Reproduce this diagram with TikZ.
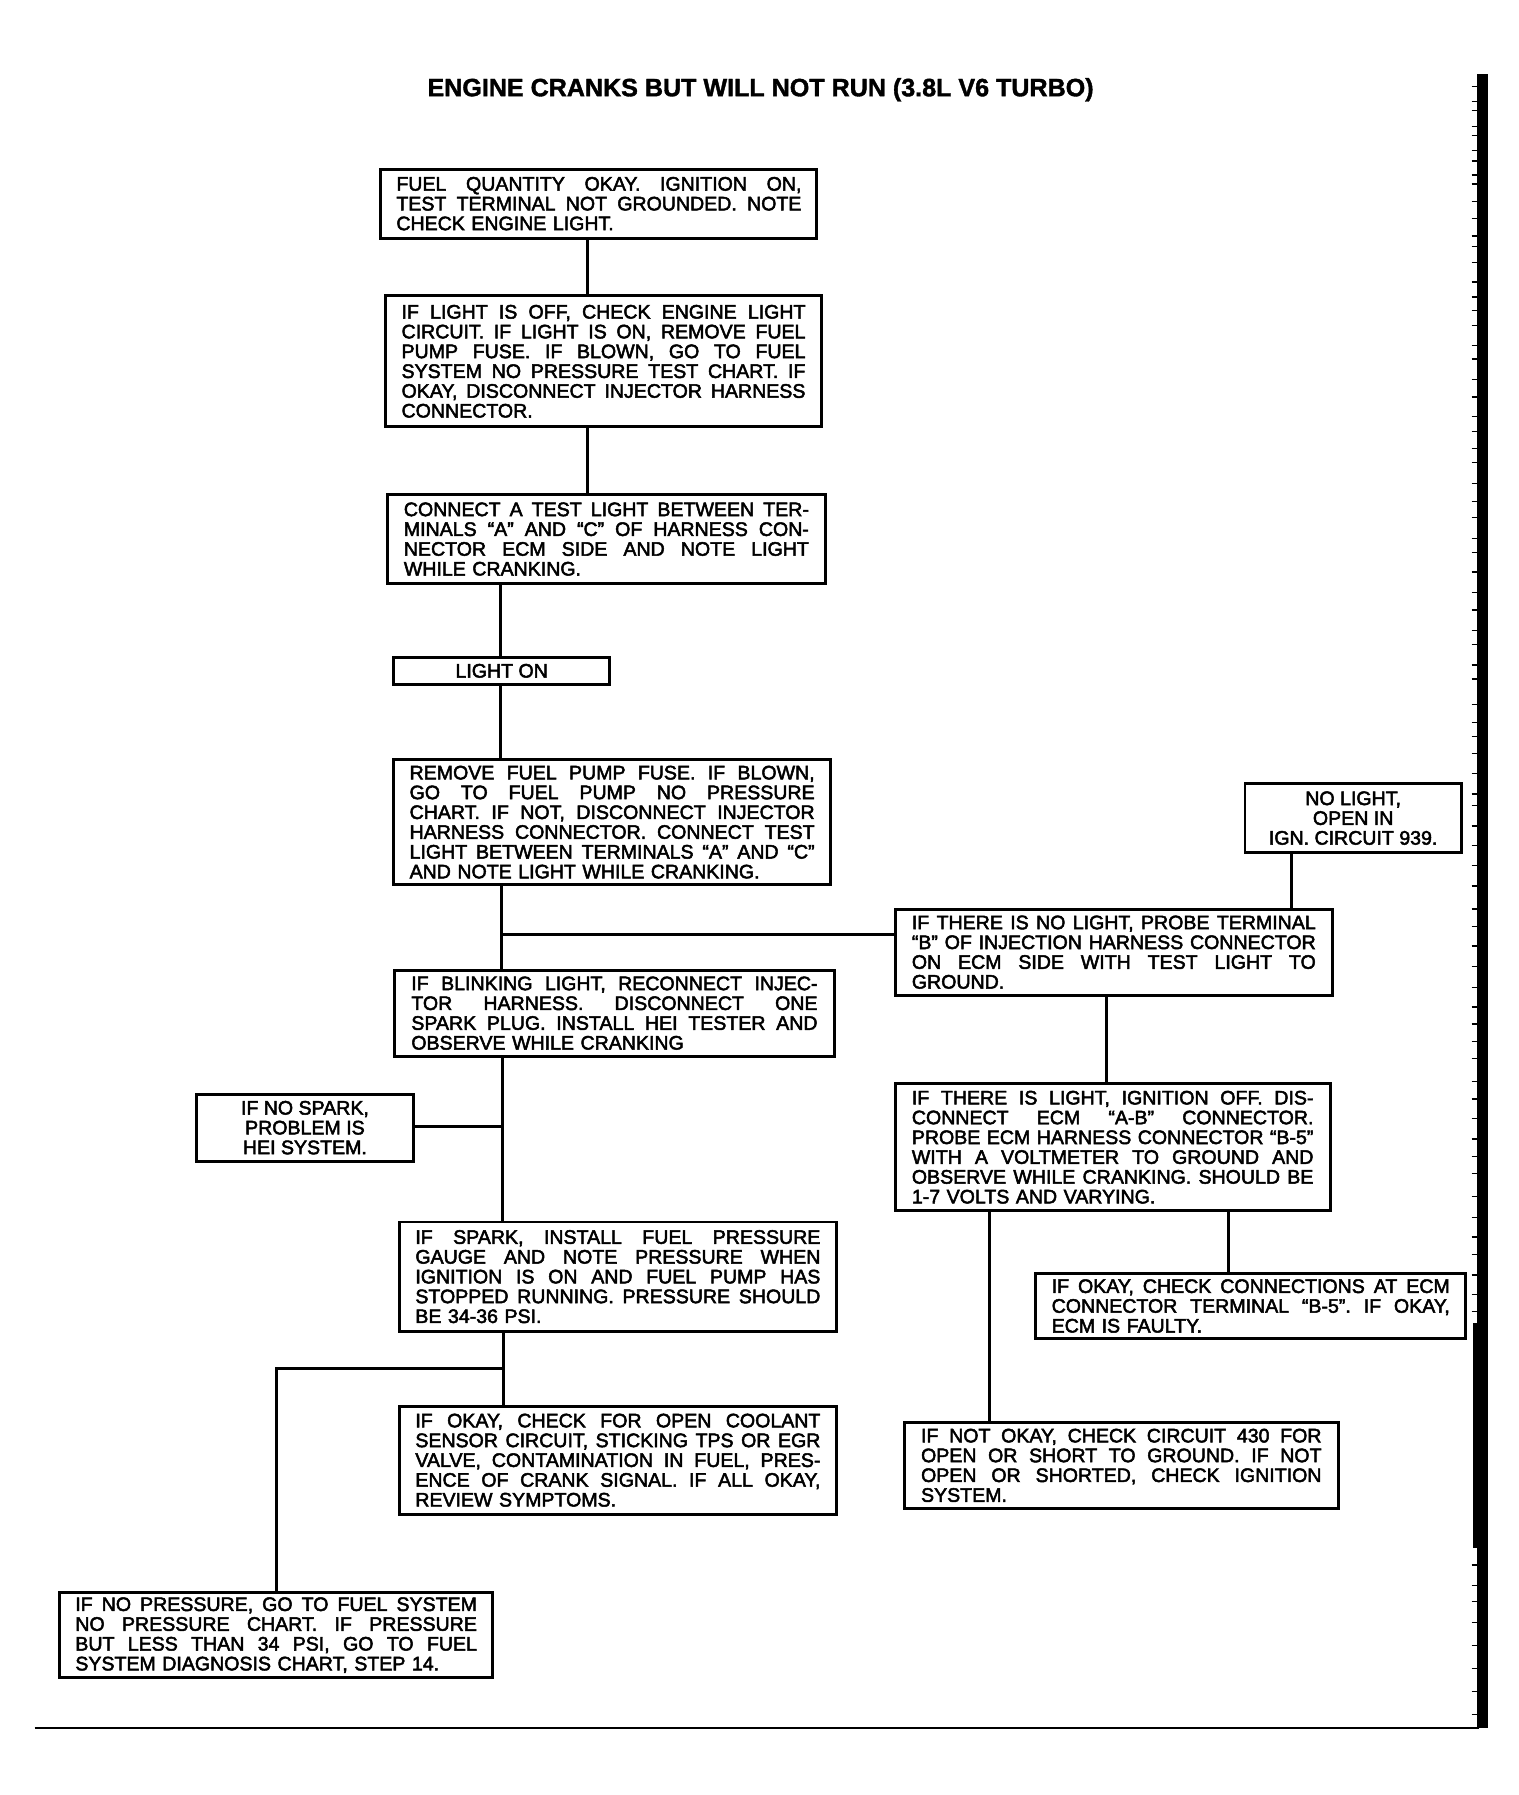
\documentclass[tikz,border=0pt]{standalone}
\usepackage{fontspec}
\setmainfont{Liberation Sans}
\newfontfamily\bxfont{Liberation Sans}[Ligatures=TeX,FakeBold=2.5]
\newfontfamily\ttlfont{Liberation Sans Bold}[Ligatures=TeX,FakeBold=1.5]
\newcommand\J[1]{\makebox[\hsize][s]{\spaceskip=0pt\xspaceskip=0pt #1}}
\begin{document}
\begin{tikzpicture}[x=0.5pt,y=-0.5pt,
  box/.style={draw, line width=1.3pt, inner xsep=1pt, inner ysep=0.5pt, align=left,
    font=\bxfont\fontsize{8.5}{8.6}\selectfont\frenchspacing},
  cbox/.style={box, align=center},
  link/.style={line width=1.3pt}]
\useasboundingbox (0,0) rectangle (1320,1560);

\node[font=\ttlfont\fontsize{10.9}{12}\selectfont] (title) at (661,78) {ENGINE CRANKS BUT WILL NOT RUN (3.8L V6 TURBO)};

\node[box, minimum width=189.5pt, minimum height=30pt, text width=176pt] (b1) at (520.5,177) {%
\J{FUEL QUANTITY OKAY. IGNITION ON,}\\
\J{TEST TERMINAL NOT GROUNDED. NOTE}\\
CHECK ENGINE LIGHT.};

\node[box, minimum width=189.5pt, minimum height=57pt, text width=175.5pt] (b2) at (524.5,314) {%
\J{IF LIGHT IS OFF, CHECK ENGINE LIGHT}\\
\J{CIRCUIT. IF LIGHT IS ON, REMOVE FUEL}\\
\J{PUMP FUSE. IF BLOWN, GO TO FUEL}\\
\J{SYSTEM NO PRESSURE TEST CHART. IF}\\
\J{OKAY, DISCONNECT INJECTOR HARNESS}\\
CONNECTOR.};

\node[box, minimum width=190pt, minimum height=38.5pt, text width=176pt] (b3) at (527,468.5) {%
\J{CONNECT A TEST LIGHT BETWEEN TER-}\\
\J{MINALS ``A'' AND ``C'' OF HARNESS CON-}\\
\J{NECTOR ECM SIDE AND NOTE LIGHT}\\
WHILE CRANKING.};

\node[cbox, minimum width=94pt, minimum height=12pt] (lighton) at (436,583) {LIGHT ON};

\node[box, minimum width=190pt, minimum height=54.5pt, text width=176pt] (b5) at (532,714.5) {%
\J{REMOVE FUEL PUMP FUSE. IF BLOWN,}\\
\J{GO TO FUEL PUMP NO PRESSURE}\\
\J{CHART. IF NOT, DISCONNECT INJECTOR}\\
\J{HARNESS CONNECTOR. CONNECT TEST}\\
\J{LIGHT BETWEEN TERMINALS ``A'' AND ``C''}\\
AND NOTE LIGHT WHILE CRANKING.};

\node[box, minimum width=190pt, minimum height=37.5pt, text width=175.5pt] (b6) at (968,827.5) {%
\J{IF THERE IS NO LIGHT, PROBE TERMINAL}\\
\J{``B'' OF INJECTION HARNESS CONNECTOR}\\
\J{ON ECM SIDE WITH TEST LIGHT TO}\\
GROUND.};

\node[cbox, minimum width=94pt, minimum height=30pt] (nolight) at (1176,711) {NO LIGHT,\\OPEN IN\\IGN. CIRCUIT 939.};

\node[box, minimum width=191pt, minimum height=37.5pt, text width=176.5pt] (b7) at (534,880.5) {%
\J{IF BLINKING LIGHT, RECONNECT INJEC-}\\
\J{TOR HARNESS. DISCONNECT ONE}\\
\J{SPARK PLUG. INSTALL HEI TESTER AND}\\
OBSERVE WHILE CRANKING};

\node[cbox, minimum width=94pt, minimum height=29pt] (nospark) at (265,980) {IF NO SPARK,\\PROBLEM IS\\HEI SYSTEM.};

\node[box, minimum width=190pt, minimum height=47.5pt, text width=176pt] (b9) at (537,1109.5) {%
\J{IF SPARK, INSTALL FUEL PRESSURE}\\
\J{GAUGE AND NOTE PRESSURE WHEN}\\
\J{IGNITION IS ON AND FUEL PUMP HAS}\\
\J{STOPPED RUNNING. PRESSURE SHOULD}\\
BE 34-36 PSI.};

\node[box, minimum width=190pt, minimum height=47pt, text width=176pt] (b10) at (537,1269) {%
\J{IF OKAY, CHECK FOR OPEN COOLANT}\\
\J{SENSOR CIRCUIT, STICKING TPS OR EGR}\\
\J{VALVE, CONTAMINATION IN FUEL, PRES-}\\
\J{ENCE OF CRANK SIGNAL. IF ALL OKAY,}\\
REVIEW SYMPTOMS.};

\node[box, minimum width=188pt, minimum height=37pt, text width=174.5pt] (b11) at (240,1421) {%
\J{IF NO PRESSURE, GO TO FUEL SYSTEM}\\
\J{NO PRESSURE CHART. IF PRESSURE}\\
\J{BUT LESS THAN 34 PSI, GO TO FUEL}\\
SYSTEM DIAGNOSIS CHART, STEP 14.};

\node[box, minimum width=189pt, minimum height=55pt, text width=174.5pt] (b8) at (967,997) {%
\J{IF THERE IS LIGHT, IGNITION OFF. DIS-}\\
\J{CONNECT ECM ``A-B'' CONNECTOR.}\\
\J{PROBE ECM HARNESS CONNECTOR ``B-5''}\\
\J{WITH A VOLTMETER TO GROUND AND}\\
\J{OBSERVE WHILE CRANKING. SHOULD BE}\\
1-7 VOLTS AND VARYING.};

\node[box, minimum width=187pt, minimum height=28pt, text width=173pt] (b12) at (1087,1135) {%
\J{IF OKAY, CHECK CONNECTIONS AT ECM}\\
\J{CONNECTOR TERMINAL ``B-5''. IF OKAY,}\\
ECM IS FAULTY.};

\node[box, minimum width=188.5pt, minimum height=37.5pt, text width=174pt] (b13) at (974.5,1273.5) {%
\J{IF NOT OKAY, CHECK CIRCUIT 430 FOR}\\
\J{OPEN OR SHORT TO GROUND. IF NOT}\\
\J{OPEN OR SHORTED, CHECK IGNITION}\\
SYSTEM.};

% guide coordinates
\coordinate (xa) at (511,0);
\coordinate (xb) at (435,0);
\coordinate (xc) at (436,0);
\coordinate (xd) at (437,0);
\coordinate (xe) at (438,0);
\coordinate (xf) at (1122,0);
\coordinate (xg) at (962,0);
\coordinate (xh) at (860,0);
\coordinate (xi) at (1068,0);
\coordinate (j1) at (436,812);
\coordinate (j2) at (437,979);
\coordinate (j3) at (438,1189);

\draw[link] (b1.south -| xa) -- (b2.north -| xa);
\draw[link] (b2.south -| xa) -- (b3.north -| xa);
\draw[link] (b3.south -| xb) -- (lighton.north -| xb);
\draw[link] (lighton.south -| xb) -- (b5.north -| xb);
\draw[link] (b5.south -| xc) -- (b7.north -| xc);
\draw[link] (j1) -- (b6.west |- j1);
\draw[link] (nolight.south -| xf) -- (b6.north -| xf);
\draw[link] (b6.south -| xg) -- (b8.north -| xg);
\draw[link] (b7.south -| xd) -- (b9.north -| xd);
\draw[link] (j2) -- (nospark.east |- j2);
\draw[link] (b9.south -| xe) -- (b10.north -| xe);
\draw[link] (j3) -| (b11.north);
\draw[link] (b8.south -| xh) -- (b13.north -| xh);
\draw[link] (b8.south -| xi) -- (b12.north -| xi);

% page frame marks
\fill (1284,64) rectangle (1293,1502);
\fill (1280,1150) rectangle (1293,1345);
\draw[line width=0.8pt] (30,1502) -- (1285,1502);
\foreach \y in {75,88,96,110,118,131,140,152,160,175,190,205,214,228,245,258,270,283,300,312,330,345,362,375,390,402,420,436,450,468,480,497,515,530,548,560,578,590,612,628,640,655,672,690,700,718,735,752,770,790,805,822,840,858,875,890,905,920,940,955,972,990,1005,1020,1040,1058,1075,1090,1108,1125,1140,1360,1378,1392,1410,1430,1450,1470,1490}
  \draw[line width=0.6pt] (1279,\y) -- (1284,\y);
\end{tikzpicture}
\end{document}
